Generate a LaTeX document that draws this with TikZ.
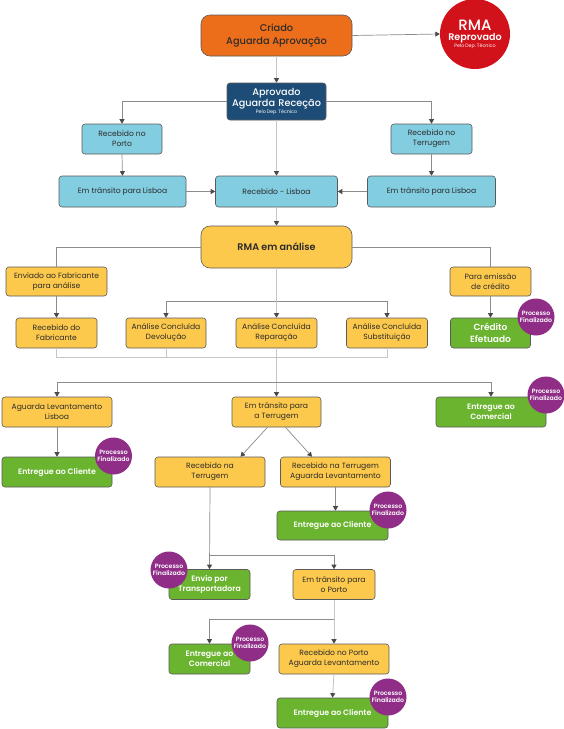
\documentclass[tikz,border=0pt]{standalone}
\usepackage{fontspec}
\setmainfont{Poppins}
\IfFontExistsTF{Poppins Medium}{\newfontfamily\fMed{Poppins Medium}}{\newfontfamily\fMed[FakeBold=0.8]{Poppins}}
\IfFontExistsTF{Poppins SemiBold}{\newfontfamily\fSemi{Poppins SemiBold}}{\newcommand\fSemi{\bfseries}}
\usetikzlibrary{arrows.meta}
\definecolor{cOrange}{HTML}{EC6E1A}
\definecolor{cNavy}{HTML}{1D4D76}
\definecolor{cBlue}{HTML}{82CDE0}
\definecolor{cYellow}{HTML}{FDC94C}
\definecolor{cGreen}{HTML}{6AB42F}
\definecolor{cRed}{HTML}{D2121A}
\definecolor{cPurple}{HTML}{8F2D87}
\definecolor{cBorder}{HTML}{5A5A5A}
\definecolor{cText}{HTML}{2B2B2B}
\definecolor{cLight}{HTML}{C6C6C6}
\definecolor{cMid}{HTML}{8C8C8C}
\definecolor{cTip}{HTML}{4A4A4A}
\newcommand\peloDep{{\fontsize{4.8}{6}\selectfont Pelo\hspace{1pt}Dep.\hspace{1pt}Técnico}}
\tikzset{
  base/.style={draw=cBorder, line width=0.6pt, rounded corners=3pt, align=center, inner sep=0pt, text=cText},
  bluebox/.style={base, fill=cBlue, font=\fontsize{7.6}{10}\selectfont},
  ybox/.style={base, fill=cYellow, font=\fontsize{7.6}{10}\selectfont},
  gbox/.style={base, fill=cGreen, text=white, font=\fSemi\fontsize{7.8}{10.5}\selectfont},
  badge/.style={circle, fill=cPurple, minimum size=37pt, inner sep=0pt, text=white, align=center, font=\fSemi\fontsize{6.2}{6.6}\selectfont},
  tipst/.style={-{Triangle[length=4.5pt,width=5pt,color=cTip]}},
  lightln/.style={draw=cLight, line width=0.9pt},
  midln/.style={draw=cMid, line width=0.7pt},
}
\begin{document}
\begin{tikzpicture}[x=1pt,y=-1pt]
\useasboundingbox (0,0) rectangle (563,729);
\fill[white] (0,0) rectangle (563,729);
% top
\node[base, fill=cOrange, rounded corners=9pt, minimum width=151pt, minimum height=41pt, text=cText, font=\fMed\fontsize{9.8}{12.5}\selectfont] (crt) at (276.5,35.5) {Criado\\Aguarda Aprovação};
\node[circle, fill=cRed, minimum size=66pt, inner sep=0pt, text=white, text width=64pt, align=center] (rej) at (475,34)
  {{\fMed\fontsize{15}{15}\selectfont RMA\par}{\fSemi\fontsize{9.6}{10.5}\selectfont Reprovado\par}{\fontsize{4.6}{6.5}\selectfont\peloDep\par}};
\node[base, fill=cNavy, minimum width=99pt, minimum height=37pt, text=white, text width=97pt] (aprov) at (276.5,101.5)
  {{\fMed\fontsize{9.7}{11.5}\selectfont Aprovado\\Aguarda Receção\par}{\fontsize{4.6}{6.5}\selectfont\peloDep\par}};
\node[bluebox, minimum width=80pt, minimum height=30pt] (porto) at (122,139) {Recebido no\\Porto};
\node[bluebox, minimum width=81pt, minimum height=30pt] (terr) at (431.5,139) {Recebido no\\Terrugem};
\node[bluebox, minimum width=127pt, minimum height=31pt] (tl) at (122.5,191.5) {Em trânsito para Lisboa};
\node[bluebox, minimum width=122pt, minimum height=31pt] (lis) at (276.5,191.5) {Recebido - Lisboa};
\node[bluebox, minimum width=128pt, minimum height=31pt] (tr) at (431.5,191.5) {Em trânsito para Lisboa};
% analysis
\node[base, fill=cYellow, rounded corners=9pt, minimum width=151pt, minimum height=42pt, font=\fSemi\fontsize{9.6}{10}\selectfont] (ana) at (276.5,247) {RMA em análise};
\node[ybox, minimum width=101pt, minimum height=29pt] (env) at (56.5,281.5) {Enviado ao Fabricante\\para análise};
\node[ybox, minimum width=81pt, minimum height=29pt] (emi) at (490.5,281.5) {Para emissão\\de crédito};
\node[ybox, minimum width=81pt, minimum height=30pt] (rfab) at (56.5,333) {Recebido do\\Fabricante};
\node[ybox, minimum width=80pt, minimum height=30pt] (dev) at (166,333) {Análise Concluída\\Devolução};
\node[ybox, minimum width=81pt, minimum height=30pt] (rep) at (276.5,333) {Análise Concluída\\Reparação};
\node[ybox, minimum width=81pt, minimum height=30pt] (sub) at (387,333) {Análise Concluída\\Substituição};
\node[gbox, minimum width=80pt, minimum height=30pt, font=\fSemi\fontsize{9}{11.5}\selectfont] (cred) at (490.5,333) {Crédito\\Efetuado};
\node[badge] (b1) at (536,317) {Processo\\Finalizado};
% delivery
\node[ybox, minimum width=110pt, minimum height=30pt] (aglev) at (57,412) {Aguarda Levantamento\\Lisboa};
\node[ybox, minimum width=89pt, minimum height=30pt] (ta) at (276.5,412) {Em trânsito para\\a Terrugem};
\node[gbox, minimum width=110pt, minimum height=30pt] (comr) at (491,412) {Entregue ao\\Comercial};
\node[badge] (b2) at (546,395) {Processo\\Finalizado};
\node[gbox, minimum width=110pt, minimum height=30pt] (cli1) at (57,472) {Entregue ao Cliente};
\node[badge] (b3) at (113.5,456) {Processo\\Finalizado};
\node[ybox, minimum width=110pt, minimum height=30pt] (rtg) at (210,472) {Recebido na\\Terrugem};
\node[ybox, minimum width=110pt, minimum height=30pt] (rta) at (335.5,472) {Recebido na Terrugem\\Aguarda Levantamento};
\node[gbox, minimum width=111pt, minimum height=29pt] (cli2) at (332.5,525.5) {Entregue ao Cliente};
\node[badge] (b4) at (388,510) {Processo\\Finalizado};
\node[gbox, minimum width=81pt, minimum height=30pt] (envio) at (209.5,584.5) {Envio por\\Transportadora};
\node[badge] (b5) at (169,570) {Processo\\Finalizado};
\node[ybox, minimum width=82pt, minimum height=30pt] (tpo) at (334,584.5) {Em trânsito para\\o Porto};
\node[gbox, minimum width=81pt, minimum height=30pt] (com2) at (209.5,659) {Entregue ao\\Comercial};
\node[badge] (b6) at (250,643) {Processo\\Finalizado};
\node[ybox, minimum width=110pt, minimum height=30pt] (rpa) at (334,659) {Recebido no Porto\\Aguarda Levantamento};
\node[gbox, minimum width=111pt, minimum height=30pt] (cli3) at (332.5,713) {Entregue ao Cliente};
\node[badge] (b7) at (388,697) {Processo\\Finalizado};
% junctions
\coordinate (j1) at (276.5,301);
\coordinate (j2) at (276.5,357);
\coordinate (j3) at (276.5,382);
\coordinate (j4) at (209.5,555);
\coordinate (j5) at (334,619);
% connectors
\draw[midln, tipst] (crt.east) -- (rej.west);
\draw[lightln, tipst] (crt.south) -- (aprov.north);
\draw[midln, tipst] (aprov.west) -| (porto.north);
\draw[midln, tipst] (aprov.east) -| (terr.north);
\draw[lightln, tipst] (aprov.south) -- (lis.north);
\draw[midln, tipst] (porto.south) -- (tl.north);
\draw[midln, tipst] (terr.south) -- (tr.north);
\draw[midln, tipst] (tl.east) -- (lis.west);
\draw[midln, tipst] (tr.west) -- (lis.east);
\draw[lightln, tipst] (lis.south) -- (ana.north);
\draw[midln] (ana.west) -| (env.north);
\draw[midln] (ana.east) -| (emi.north);
\draw[midln, tipst] (env.south) -- (rfab.north);
\draw[midln, tipst] (emi.south) -- (cred.north);
\draw[lightln] (ana.south) -- (j1);
\draw[midln, tipst] (j1) -| (dev.north);
\draw[midln, tipst] (j1) -| (sub.north);
\draw[lightln, tipst] (j1) -- (rep.north);
\draw[lightln] (rfab.south) |- (j2);
\draw[lightln] (sub.south) |- (j2);
\draw[lightln] (dev.south) -- (dev.south |- j2);
\draw[lightln] (rep.south) -- (j2);
\draw[lightln, tipst] (j2) -- (ta.north);
\draw[midln, tipst] (j3) -| (aglev.north);
\draw[midln, tipst] (j3) -| (comr.north);
\draw[midln, tipst] (aglev.south) -- (cli1.north);
\draw[midln, tipst] ([xshift=-9pt]ta.south) -- ([xshift=30.5pt]rtg.north);
\draw[midln, tipst] ([xshift=9pt]ta.south) -- ([xshift=-23.5pt]rta.north);
\draw[midln, tipst] (rta.south) -- (rta.south |- cli2.north);
\draw[midln, tipst] (rtg.south) -- (envio.north);
\draw[midln, tipst] (j4) -| (tpo.north);
\draw[lightln, tipst] (tpo.south) -- (rpa.north);
\draw[midln, tipst] (j5) -| (com2.north);
\draw[lightln, tipst] (rpa.south) -- (cli3.north);
\end{tikzpicture}
\end{document}
